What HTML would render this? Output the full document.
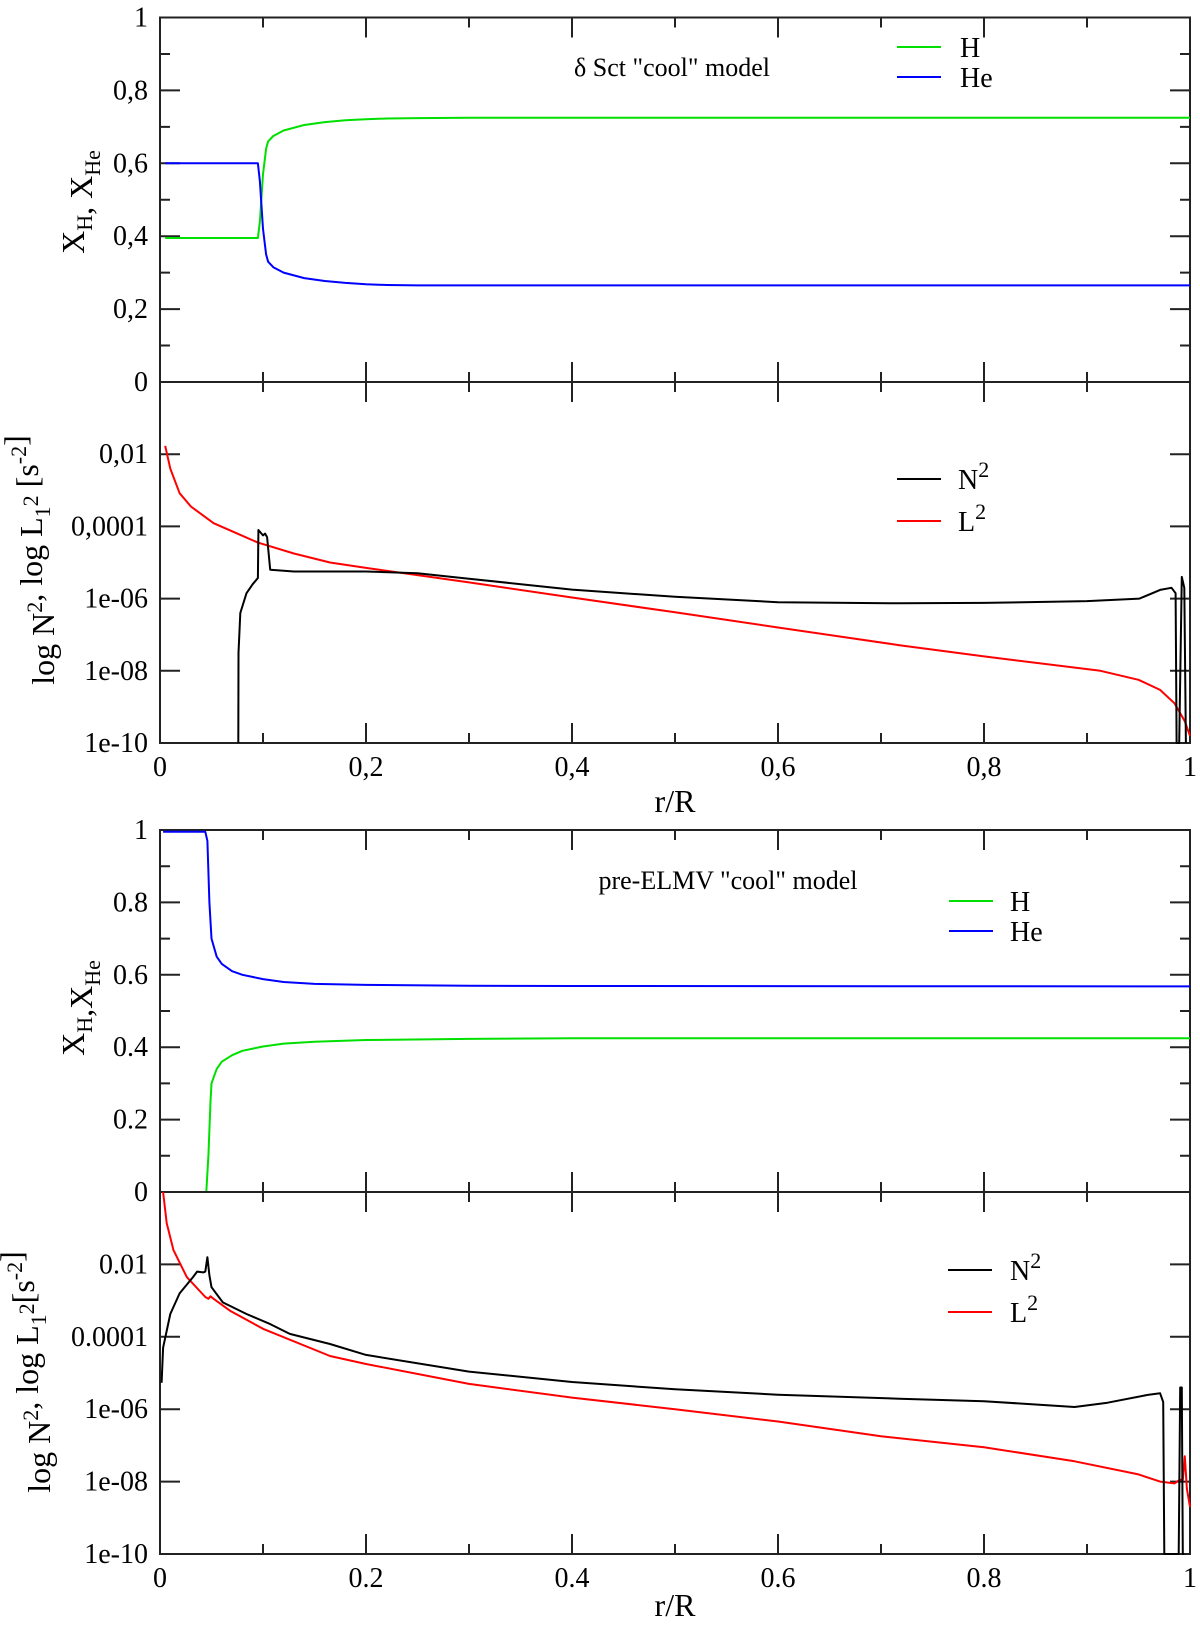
<!DOCTYPE html>
<html><head><meta charset="utf-8"><style>
html,body{margin:0;padding:0;background:#fff}
svg{display:block;font-family:"Liberation Serif",serif}
</style></head><body>
<svg id="fig" width="1200" height="1632" viewBox="0 0 1200 1632"></svg>
<script>
// ---------- data ----------
const p1X=[0.005,0.095,0.097,0.1,0.103,0.105,0.11,0.12,0.14,0.16,0.18,0.2,0.22,0.25,0.3,0.5,1.0];
const p1He=[0.6,0.6,0.55,0.42,0.35,0.33,0.315,0.3,0.285,0.277,0.272,0.268,0.266,0.265,0.265,0.265,0.265];
const p1H=[0.395,0.395,0.44,0.57,0.64,0.66,0.675,0.69,0.705,0.713,0.718,0.721,0.723,0.724,0.725,0.725,0.725];
const p2LX=[0.005,0.01,0.019,0.03,0.052,0.075,0.095,0.13,0.165,0.2,0.3,0.4,0.5,0.6,0.718,0.8,0.913,0.95,0.971,0.985,0.995,1.0];
const p2L=[-1.77,-2.4,-3.08,-3.45,-3.91,-4.2,-4.45,-4.75,-5.0,-5.15,-5.55,-5.97,-6.38,-6.8,-7.29,-7.6,-8.0,-8.25,-8.53,-8.9,-9.4,-9.8];
const p2NX=[0.076,0.0762,0.078,0.084,0.09,0.095,0.0955,0.1,0.102,0.104,0.107,0.13,0.165,0.2,0.25,0.3,0.4,0.5,0.6,0.718,0.8,0.9,0.951,0.971,0.982,0.986,0.987,0.9895,0.992,0.9945,0.996];
const p2N=[-10,-7.5,-6.4,-5.85,-5.6,-5.43,-4.1,-4.25,-4.2,-4.3,-5.2,-5.25,-5.25,-5.25,-5.3,-5.45,-5.75,-5.95,-6.1,-6.13,-6.12,-6.07,-6.0,-5.76,-5.7,-5.85,-10,-10,-5.4,-5.7,-10];
const p3X=[0.003,0.044,0.046,0.048,0.05,0.055,0.06,0.07,0.08,0.1,0.12,0.15,0.2,0.3,0.4,1.0];
const p3He=[0.995,0.995,0.97,0.8,0.7,0.65,0.63,0.61,0.6,0.588,0.58,0.575,0.572,0.57,0.569,0.568];
const p3HX=[0.003,0.045,0.047,0.049,0.05,0.055,0.06,0.07,0.08,0.1,0.12,0.15,0.2,0.3,0.4,1.0];
const p3H=[0,0,0.1,0.25,0.3,0.34,0.36,0.378,0.39,0.402,0.41,0.415,0.42,0.423,0.425,0.425];
const p4LX=[0.003,0.0065,0.013,0.026,0.044,0.047,0.049,0.052,0.068,0.1,0.165,0.2,0.3,0.4,0.5,0.6,0.7,0.8,0.888,0.95,0.971,0.985,0.99,0.993,0.995,0.997,1.0];
const p4L=[0,-0.86,-1.6,-2.35,-2.9,-2.95,-2.88,-2.95,-3.28,-3.78,-4.53,-4.75,-5.3,-5.68,-6.0,-6.34,-6.75,-7.05,-7.44,-7.8,-8.0,-8.05,-7.95,-7.95,-7.3,-8.2,-8.7];
const p4NX=[0.0016,0.003,0.01,0.019,0.032,0.036,0.042,0.044,0.046,0.048,0.05,0.061,0.084,0.107,0.126,0.165,0.2,0.3,0.4,0.5,0.6,0.718,0.8,0.888,0.92,0.96,0.971,0.974,0.975,0.989,0.9905,0.992,0.993,0.9945];
const p4N=[-5.27,-4.3,-3.37,-2.8,-2.35,-2.2,-2.22,-2.2,-1.8,-2.3,-2.63,-3.05,-3.37,-3.65,-3.92,-4.2,-4.5,-4.96,-5.25,-5.45,-5.6,-5.71,-5.78,-5.94,-5.82,-5.6,-5.56,-5.8,-10,-10,-5.4,-5.4,-10,-10];
const xTicks=[0,0.2,0.4,0.6,0.8,1];
const xLabelsComma=["0","0,2","0,4","0,6","0,8","1"];
const xLabelsDot=["0","0.2","0.4","0.6","0.8","1"];
const linTicks=[0,0.2,0.4,0.6,0.8,1];
const linLabelsComma=["0","0,2","0,4","0,6","0,8","1"];
const linLabelsDot=["0","0.2","0.4","0.6","0.8","1"];
const logTicks=[-10,-8,-6,-4,-2];
const logLabelsComma=["1e-10","1e-08","1e-06","0,0001","0,01"];
const logLabelsDot=["1e-10","1e-08","1e-06","0.0001","0.01"];

// ---------- drawing ----------
const NS="http://www.w3.org/2000/svg";
const svg=document.getElementById('fig');
const X0=160,X1=1190;
const xs=v=>X0+(X1-X0)*v;
function mk(tag,attrs,parent){const e=document.createElementNS(NS,tag);for(const k in attrs)e.setAttribute(k,attrs[k]);(parent||svg).appendChild(e);return e;}
function panel(name,top,bot,ymin,ymax,ticks,labels,minorStep){
  const g=mk('g',{});
  
  
  const ys=v=>bot-(bot-top)*(v-ymin)/(ymax-ymin);
  const fr=mk('rect',{x:X0,y:top,width:X1-X0,height:bot-top,fill:'none',stroke:'#222','stroke-width':2},g);
  
  
  let d='';
  for(let i=0;i<=10;i++){const x=xs(i/10);const L=i%2==0?20:10;
    d+=`M${x},${bot}v${-L}M${x},${top}v${L}`;}
  for(let v=ymin;v<=ymax+1e-9;v+=minorStep){const y=ys(v);const maj=ticks.some(t=>Math.abs(t-v)<1e-6);const L=maj?20:10;
    d+=`M${X0},${y}h${L}M${X1},${y}h${-L}`;}
  const tk=mk('path',{d:d,stroke:'#222','stroke-width':2,fill:'none'},g);
  
  
  ticks.forEach((t,i)=>{const tx=mk('text',{x:148,y:ys(t)+9,'text-anchor':'end','font-size':28},g);tx.textContent=labels[i];
    
    });
  return {g,ys};
}
function line(p,xa,ya,color,name){
  const pts=xa.map((x,i)=>xs(x).toFixed(1)+','+p.ys(ya[i]).toFixed(1)).join(' ');
  const pl=mk('polyline',{points:pts,fill:'none',stroke:color,'stroke-width':2,'stroke-linejoin':'round'},p.g);
  
  
}
function xlabels(bot,labels,ty){
  xTicks.forEach((t,i)=>{const tx=mk('text',{x:xs(t),y:bot+33,'text-anchor':'middle','font-size':28});tx.textContent=labels[i];
    
    });
  const tt=mk('text',{x:675,y:ty,'text-anchor':'middle','font-size':32});tt.textContent='r/R';
  
  
}
function legend(x,y1,y2,items,txtX){
  items.forEach((it,i)=>{const y=i==0?y1:y2;
    const l=mk('line',{x1:x,x2:x+44,y1:y,y2:y,stroke:it[0],'stroke-width':2});
    
    
    const t=mk('text',{x:txtX,y:y+10,'font-size':28});t.innerHTML=it[1];
    
    });
}
function ylab(cx,cy,html,name){
  const t=mk('text',{x:0,y:0,'text-anchor':'middle','font-size':32,transform:`translate(${cx},${cy}) rotate(-90)`});t.innerHTML=html;
  
  
}
const sub=s=>`<tspan font-size="22" dy="8">${s}</tspan><tspan dy="-8"></tspan>`;
const sup=s=>`<tspan font-size="22" dy="-12">${s}</tspan><tspan dy="12"></tspan>`;

// panel 1
const P1=panel('composition-panel-top',17.5,382,0,1,linTicks,linLabelsComma,0.1);
line(P1,p1X,p1H,'#00e000','h-line-top');
line(P1,p1X,p1He,'#0000ff','he-line-top');
let t=mk('text',{x:672,y:76,'text-anchor':'middle','font-size':26});t.textContent='δ Sct "cool" model';


legend(897,47,77,[['#00e000','H','h'],['#0000ff','He','he']],960);
ylab(84,202,'X'+sub('H')+', X'+sub('He'),'y-axis-title-composition-top');
// panel 2
const P2=panel('frequency-panel-top',382,743,-10,0,logTicks,logLabelsComma,2);
line(P2,p2LX,p2L,'#ff0000','l2-line-top');
line(P2,p2NX,p2N,'#000000','n2-line-top');
legend(897,479,521,[['#000','N'+sup('2'),'n2'],['#ff0000','L'+sup('2'),'l2']],958);
ylab(54,560,'log N'+sup('2')+', log L'+sub('1')+sup('2')+' [s'+sup('-2')+']','y-axis-title-frequency-top');
xlabels(743,xLabelsComma,812);
// panel 3
const P3=panel('composition-panel-bottom',830,1192,0,1,linTicks,linLabelsDot,0.1);
line(P3,p3HX,p3H,'#00e000','h-line-bottom');
line(P3,p3X,p3He,'#0000ff','he-line-bottom');
t=mk('text',{x:728,y:889,'text-anchor':'middle','font-size':26});t.textContent='pre-ELMV "cool" model';


legend(949,901,931,[['#00e000','H','h'],['#0000ff','He','he']],1010);
ylab(84,1008,'X'+sub('H')+',X'+sub('He'),'y-axis-title-composition-bottom');
// panel 4
const P4=panel('frequency-panel-bottom',1192,1554,-10,0,logTicks,logLabelsDot,2);
line(P4,p4LX,p4L,'#ff0000','l2-line-bottom');
line(P4,p4NX,p4N,'#000000','n2-line-bottom');
legend(948,1270,1312,[['#000','N'+sup('2'),'n2'],['#ff0000','L'+sup('2'),'l2']],1010);
ylab(50,1372,'log N'+sup('2')+', log L'+sub('1')+sup('2')+'[s'+sup('-2')+']','y-axis-title-frequency-bottom');
xlabels(1554,xLabelsDot,1616);
</script>
</body></html>
